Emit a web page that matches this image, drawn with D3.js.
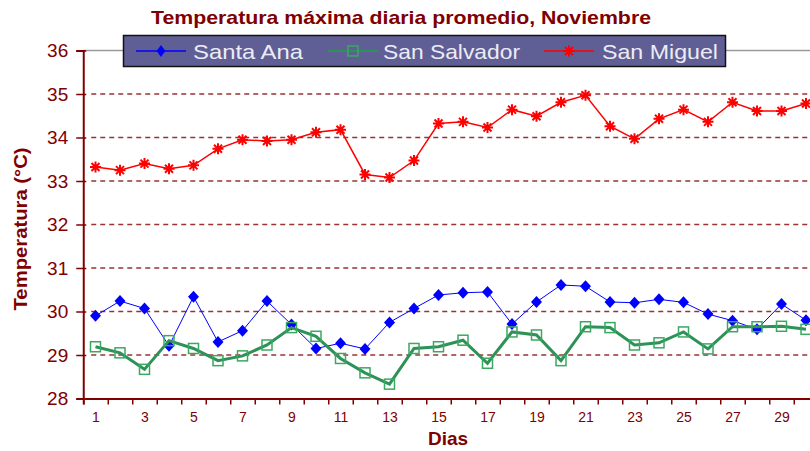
<!DOCTYPE html>
<html>
<head>
<meta charset="utf-8">
<script src="https://cdn.jsdelivr.net/npm/d3@7"></script>
<style>
  body { margin: 0; background: #fff; }
  svg { display: block; font-family: Arial, "Liberation Sans", sans-serif; }
</style>
</head>
<body>
<svg id="chart"></svg>
<script>
const w = 810;
const h = 451;

const dias = d3.range(1, 31);
const santaAna = [29.90, 30.24, 30.07, 29.21, 30.34, 29.30, 29.56, 30.24, 29.70, 29.15,
  29.27, 29.14, 29.75, 30.07, 30.38, 30.43, 30.45, 29.71, 30.22, 30.61,
  30.58, 30.22, 30.20, 30.28, 30.21, 29.94, 29.79, 29.59, 30.17, 29.80];
const sanSalvador = [29.19, 29.05, 28.67, 29.33, 29.15, 28.87, 28.98, 29.23, 29.63, 29.43,
  28.92, 28.59, 28.33, 29.15, 29.19, 29.34, 28.81, 29.53, 29.46, 28.87,
  29.65, 29.63, 29.23, 29.28, 29.53, 29.14, 29.65, 29.65, 29.66, 29.59];
const sanMiguel = [33.32, 33.25, 33.40, 33.28, 33.36, 33.74, 33.95, 33.92, 33.95, 34.12,
  34.18, 33.15, 33.08, 33.47, 34.32, 34.36, 34.23, 34.64, 34.49, 34.81,
  34.97, 34.26, 33.97, 34.43, 34.64, 34.36, 34.81, 34.61, 34.61, 34.78];
const yTicks = [28, 29, 30, 31, 32, 33, 34, 35, 36];
const xLabels = [1, 3, 5, 7, 9, 11, 13, 15, 17, 19, 21, 23, 25, 27, 29];
const nombres = ['Santa Ana', 'San Salvador', 'San Miguel'];

const rojo = '#800000';
const izq = 83.25, abajo = 398.5, arriba = 50.5;
const paso = 24.5;

const svg = d3.select('#chart').attr('width', w).attr('height', h);

const escalaX = d3.scaleLinear().domain([0.5, 30.5]).range([izq, izq + 30 * paso]);
const escalaY = d3.scaleLinear().domain([28, 36]).range([abajo, arriba]);

// grid dashed
svg.append('g')
  .selectAll('line')
  .data(yTicks.filter(t => t > 28 && t < 36))
  .enter()
  .append('line')
  .attr('x1', izq + 8).attr('x2', w)
  .attr('y1', d => escalaY(d)).attr('y2', d => escalaY(d))
  .style('stroke', '#993333')
  .style('stroke-width', 1.5)
  .style('stroke-dasharray', '5,4');

// top border
svg.append('line')
  .attr('x1', izq).attr('x2', w)
  .attr('y1', escalaY(36)).attr('y2', escalaY(36))
  .style('stroke', '#9a9a9a').style('stroke-width', 1.5);

// y axis
const ejeY = d3.axisLeft(escalaY).tickValues(yTicks).tickSize(7).tickPadding(8);
const gy = svg.append('g').attr('transform', 'translate(' + izq + ',0)').call(ejeY);
gy.select('.domain').style('stroke', rojo).style('stroke-width', 2);
gy.selectAll('.tick line').style('stroke', rojo).style('stroke-width', 1.5).attr('x2', 3).attr('x1', -7);
gy.selectAll('text').style('fill', rojo).style('font-size', '19px').attr('x', -15);

// x axis ticks at boundaries
const ejeX = d3.axisBottom(escalaX).tickValues(d3.range(0.5, 31, 1)).tickFormat('').tickSize(6);
const gx = svg.append('g').attr('transform', 'translate(0,' + abajo + ')').call(ejeX);
gx.select('.domain').style('stroke', rojo).style('stroke-width', 2);
gx.selectAll('.tick line').style('stroke', rojo).style('stroke-width', 1.5);

const ejeXl = d3.axisBottom(escalaX).tickValues(xLabels).tickSize(0).tickPadding(14);
const gxl = svg.append('g').attr('transform', 'translate(0,' + abajo + ')').call(ejeXl);
gxl.select('.domain').remove();
gxl.selectAll('text').style('fill', rojo).style('font-size', '14px');

// axis titles
svg.append('text')
  .attr('x', 448).attr('y', 445)
  .attr('text-anchor', 'middle')
  .style('fill', rojo).style('font-size', '19px').style('font-weight', 'bold')
  .text('Dias');

svg.append('text')
  .attr('transform', 'translate(27,229) rotate(-90)')
  .attr('text-anchor', 'middle')
  .attr('textLength', 163).attr('lengthAdjust', 'spacingAndGlyphs')
  .style('fill', rojo).style('font-size', '19px').style('font-weight', 'bold')
  .text('Temperatura (°C)');

svg.append('text')
  .attr('x', 401).attr('y', 24)
  .attr('text-anchor', 'middle')
  .attr('textLength', 500).attr('lengthAdjust', 'spacingAndGlyphs')
  .style('fill', rojo).style('font-size', '19px').style('font-weight', 'bold')
  .text('Temperatura máxima diaria promedio, Noviembre');

// lines
const linea = d3.line()
  .x((d, i) => escalaX(dias[i]))
  .y(d => escalaY(d));

const diamante = 'M0,-6L5.5,0L0,6L-5.5,0Z';
const estrella = 'M-5.5,0H5.5M0,-5.5V5.5M-4,-4L4,4M-4,4L4,-4';

function marcas(g, datos, tipo) {
  const sel = g.selectAll('.m').data(datos).enter();
  if (tipo === 'diamante') {
    sel.append('path')
      .attr('d', diamante)
      .attr('transform', (d, i) => 'translate(' + escalaX(dias[i]) + ',' + escalaY(d) + ')')
      .style('fill', '#0000ff');
  } else if (tipo === 'cuadro') {
    sel.append('rect')
      .attr('x', (d, i) => escalaX(dias[i]) - 5)
      .attr('y', d => escalaY(d) - 5)
      .attr('width', 10).attr('height', 10)
      .style('fill', 'none').style('stroke', '#3aa862').style('stroke-width', 1.5);
  } else {
    sel.append('path')
      .attr('d', estrella)
      .attr('transform', (d, i) => 'translate(' + escalaX(dias[i]) + ',' + escalaY(d) + ')')
      .style('stroke', '#ff0000').style('stroke-width', 2).style('fill', 'none');
  }
}

const gSM = svg.append('g');
gSM.append('path').attr('d', linea(sanMiguel))
  .style('stroke', '#ff0000').style('stroke-width', 1.5).style('fill', 'none');
marcas(gSM, sanMiguel, 'estrella');

const gSA = svg.append('g');
gSA.append('path').attr('d', linea(santaAna))
  .style('stroke', '#0000ff').style('stroke-width', 1).style('fill', 'none');
marcas(gSA, santaAna, 'diamante');

const gSS = svg.append('g');
gSS.append('path').attr('d', linea(sanSalvador))
  .style('stroke', '#2e9158').style('stroke-width', 3).style('fill', 'none');
marcas(gSS, sanSalvador, 'cuadro');

// legend
const leyenda = svg.append('g');
leyenda.append('rect')
  .attr('x', 123.5).attr('y', 35.5).attr('width', 602).attr('height', 31)
  .style('fill', '#5f5f96').style('stroke', '#111').style('stroke-width', 1.5);

const itemsX = [136, 328, 544];
const textX = [193, 383, 602];
const textW = [110, 137, 116];
const colores = ['#0000ff', '#2e9158', '#ff0000'];
const tipos = ['diamante', 'cuadro', 'estrella'];

nombres.forEach((n, i) => {
  const g = leyenda.append('g');
  g.append('line')
    .attr('x1', itemsX[i]).attr('x2', itemsX[i] + 50)
    .attr('y1', 51).attr('y2', 51)
    .style('stroke', colores[i]).style('stroke-width', i === 1 ? 2 : 1.5);
  const cx = itemsX[i] + 25;
  if (tipos[i] === 'diamante') {
    g.append('path').attr('d', diamante)
      .attr('transform', 'translate(' + cx + ',51) scale(0.8,1)')
      .style('fill', '#0000ff');
  } else if (tipos[i] === 'cuadro') {
    g.append('rect').attr('x', cx - 5).attr('y', 46).attr('width', 10).attr('height', 10)
      .style('fill', 'none').style('stroke', '#3aa862').style('stroke-width', 1.5);
  } else {
    g.append('path').attr('d', estrella)
      .attr('transform', 'translate(' + cx + ',51)')
      .style('stroke', '#ff0000').style('stroke-width', 2).style('fill', 'none');
  }
  g.append('text')
    .attr('x', textX[i]).attr('y', 59)
    .attr('textLength', textW[i]).attr('lengthAdjust', 'spacingAndGlyphs')
    .style('fill', '#ececf4').style('font-size', '21px')
    .text(n);
});
</script>
</body>
</html>
